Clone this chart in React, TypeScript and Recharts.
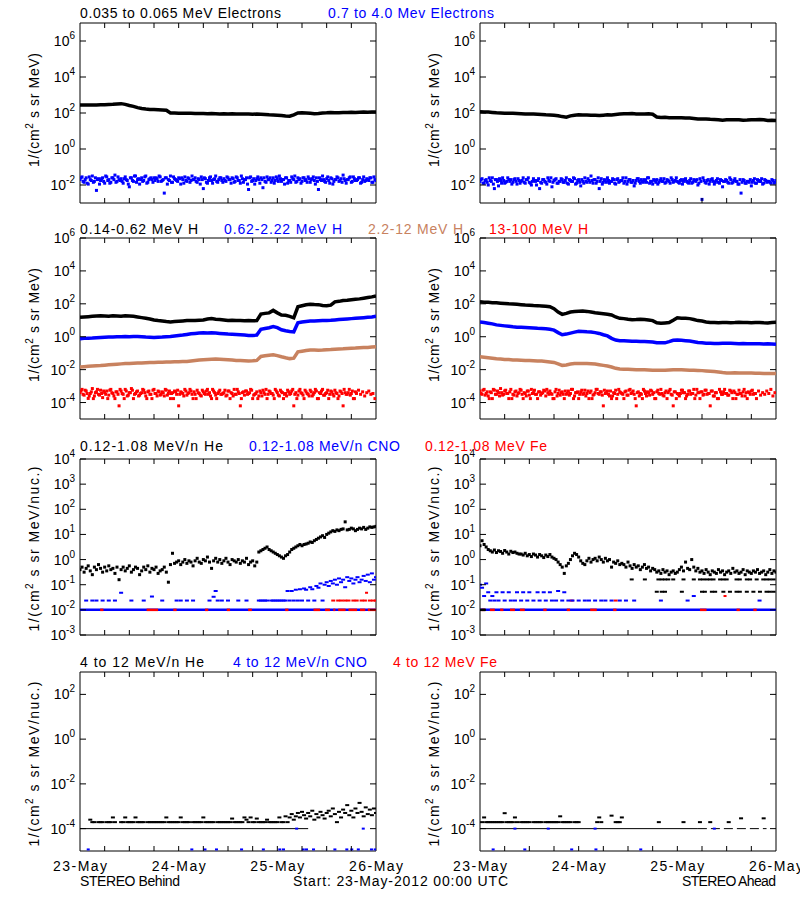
import React from 'react';
import { ComposedChart, Line, Scatter, XAxis, YAxis, ReferenceArea } from 'recharts';

const FONT = '"Liberation Sans", Arial, Helvetica, sans-serif';
const _ = null;
const BLACK = '#000000';
const BLUE = '#0000ff';
const BROWN = '#c8825f';
const RED = '#ff0000';

const DATE_LABELS = ['23-May', '24-May', '25-May', '26-May'];
const HOUR_TICKS = [0, 6, 12, 18, 24, 30, 36, 42, 48, 54, 60, 66, 72];

// ---------- Row 1: electrons (log10 flux) ----------
// hourly, 0.035-0.065 MeV, Behind
const eLowBehind = [
  2.44, 2.44, 2.45, 2.45, 2.45, 2.46, 2.46, 2.47, 2.48, 2.5,
  2.52, 2.48, 2.42, 2.37, 2.3, 2.25, 2.22, 2.2, 2.19, 2.18,
  2.17, 2.15, 2.0, 2.0, 1.99, 1.99, 1.98, 1.98, 1.97, 1.97,
  1.97, 1.96, 1.97, 1.96, 1.95, 1.96, 1.95, 1.96, 1.95, 1.95,
  1.94, 1.94, 1.93, 1.94, 1.93, 1.92, 1.9, 1.89, 1.88, 1.86,
  1.83, 1.82, 1.9, 2.0, 2.01, 2.0, 1.98, 1.96, 1.97, 2.0,
  2.01, 2.03, 2.02, 2.02, 2.03, 2.03, 2.04, 2.03, 2.04, 2.05,
  2.04, 2.05, 2.06,
];
// half-hourly (on the hour and half hour), 0.7-4.0 MeV, Behind
const eHighBehind = [
  -1.7, -1.55, -1.85, -1.6, -1.95, -1.7, -1.5, -1.8, -2.3, -1.65,
  -1.75, -1.6, -1.9, -1.55, -1.7, -1.85, -1.6, -1.45, -1.8, -1.7,
  -1.65, -1.9, -1.55, -1.75, -2.1, -1.6, -1.8, -1.5, -1.7, -1.95,
  -1.6, -1.75, -1.5, -1.85, -1.65, -1.7, -1.6, -1.6, -1.8, -1.55,
  -1.75, -2.45, -1.6, -1.7, -1.5, -1.85, -1.65, -1.75, -1.6, -1.95,
  -1.7, -1.55, -1.8, -1.65, -1.75, -1.7, -1.6, -1.85, -1.7, -1.55,
  -2.2, -1.65, -1.9, -1.6, -1.75, -1.7, -1.5, -1.85, -1.6, -1.75,
  -1.65, -1.8, -1.6, -1.7, -1.6, -1.85, -1.55, -1.75, -1.9, -1.65,
  -1.7, -1.6, -2.25, -1.55, -1.75, -1.95, -1.65, -1.7, -1.6, -2.15,
  -1.8, -1.55, -1.7, -1.85, -1.6, -1.75, -1.65, -1.5, -1.8, -1.7,
  -1.6, -1.9, -1.75, -1.55, -1.7, -1.85, -1.6, -1.65, -1.8, -1.6,
  -1.7, -1.55, -1.85, -1.65, -1.75, -1.6, -2.25, -1.7, -1.5, -1.8,
  -1.65, -1.75, -1.6, -1.95, -1.7, -1.55, -1.8, -1.65, -1.45, -1.75,
  -1.7, -1.6, -1.85, -1.55, -1.75, -1.7, -1.6, -1.85, -1.55, -1.75,
  -1.7, -1.6, -1.85, -1.55, -1.75,
];
// quarter past / quarter to samples, 0.7-4.0 MeV, Behind
const eHighBehindB = [
  -1.6, -1.8, -1.7, -1.9, -1.55, -1.75, -1.85, -1.6, -1.7, -1.95,
  -1.65, -1.8, -1.5, -1.75, -1.9, -1.6, -1.7, -1.85, -1.55, -1.75,
  -1.8, -1.65, -1.7, -1.95, -1.6, -1.75, -1.5, -1.85, -1.65, -1.7,
  -1.8, -1.55, -1.9, -1.7, -1.6, -1.85, -1.75, -1.65, -1.5, -1.8,
  -1.7, -1.6, -1.95, -1.75, -1.85, -1.55, -1.7, -1.8, -1.65, -1.6,
  -1.9, -1.75, -1.6, -1.85, -1.5, -1.7, -1.8, -1.65, -1.95, -1.7,
  -1.6, -1.85, -1.75, -1.55, -1.9, -1.65, -1.8, -1.7, -1.6, -1.85,
  -1.75, -1.55, -1.7, -1.9, -1.65, -1.8, -1.6, -1.75, -1.5, -1.85,
  -1.7, -1.95, -1.6, -1.8, -1.65, -1.75, -1.55, -1.9, -1.7, -1.6,
  -1.85, -1.7, -1.6, -1.75, -1.9, -1.55, -1.8, -1.65, -1.7, -1.95,
  -1.6, -1.75, -1.85, -1.65, -1.5, -1.8, -1.7, -1.9, -1.6, -1.75,
  -1.85, -1.65, -1.7, -1.55, -1.95, -1.8, -1.6, -1.75, -1.7, -1.85,
  -1.55, -1.9, -1.65, -1.8, -1.7, -1.6, -1.75, -1.85, -1.65, -1.9,
  -1.7, -1.55, -1.8, -1.65, -1.75, -1.6, -1.9, -1.7, -1.8, -1.65,
  -1.75, -1.6, -1.85, -1.7,
];
const eLowAhead = [
  2.07, 2.06, 2.05, 2.03, 2.01, 2.0, 1.99, 1.99, 1.98, 1.97,
  1.96, 1.95, 1.95, 1.94, 1.93, 1.92, 1.9, 1.89, 1.88, 1.85,
  1.8, 1.77, 1.84, 1.88, 1.9, 1.89, 1.89, 1.88, 1.87, 1.86,
  1.88, 1.9, 1.89, 1.92, 1.94, 1.96, 1.96, 1.97, 1.95, 1.94,
  1.95, 1.96, 1.93, 1.78, 1.75, 1.76, 1.74, 1.74, 1.73, 1.74,
  1.72, 1.72, 1.7, 1.67, 1.66, 1.67, 1.65, 1.64, 1.63, 1.6,
  1.62, 1.63, 1.62, 1.63, 1.6, 1.61, 1.63, 1.62, 1.64, 1.62,
  1.58, 1.6, 1.59,
];
const eHighAhead = [
  -1.8, -1.65, -1.9, -1.7, -2.0, -1.75, -1.6, -2.2, -1.7, -2.05,
  -1.75, -1.6, -1.9, -1.8, -1.7, -1.7, -1.85, -1.65, -1.95, -1.75,
  -1.8, -1.6, -1.9, -1.7, -1.85, -2.0, -1.65, -1.8, -1.75, -2.2,
  -1.9, -1.7, -1.85, -1.6, -1.8, -2.1, -1.75, -1.65, -1.9, -1.8,
  -1.7, -1.85, -1.6, -1.95, -1.75, -1.8, -1.65, -1.9, -1.7, -2.05,
  -1.8, -1.6, -1.85, -1.75, -1.5, -1.9, -1.7, -1.8, -2.2, -1.65,
  -1.85, -1.75, -1.6, -1.9, -1.8, -1.7, -1.95, -1.65, -1.8, -1.75,
  -1.9, -1.6, -1.8, -1.7, -1.85, -2.05, -1.75, -1.65, -1.9, -1.8,
  -1.7, -1.85, -1.6, -1.8, -1.95, -1.75, -1.7, -1.85, -1.65, -1.8,
  -1.9, -1.7, -1.8, -1.6, -1.85, -1.75, -1.8, -1.9, -1.7, -1.8,
  -1.65, -1.85, -1.75, -1.9, -1.7, -1.8, -2.0, -1.65, -2.8, -1.75,
  -1.9, -1.7, -1.8, -1.65, -1.95, -1.75, -1.85, -1.7, -2.1, -1.8,
  -1.75, -1.9, -1.7, -1.85, -1.65, -1.8, -1.95, -2.45, -1.7, -1.9,
  -1.8, -1.85, -2.05, -1.75, -1.9, -1.7, -1.8, -1.65, -1.9, -1.75,
  -1.8, -1.85, -1.7, -1.9, -1.75,
];
const eHighAheadB = [
  -1.7, -1.9, -1.75, -1.85, -1.6, -1.8, -1.95, -1.7, -1.8, -1.65,
  -1.9, -1.75, -1.85, -1.6, -1.8, -1.95, -1.7, -1.8, -1.65, -1.9,
  -1.75, -1.85, -1.7, -1.6, -1.9, -1.8, -1.75, -2.0, -1.65, -1.85,
  -1.7, -1.8, -1.95, -1.75, -1.6, -1.85, -1.7, -1.9, -1.8, -1.65,
  -1.85, -1.75, -1.9, -1.7, -1.8, -1.6, -1.95, -1.75, -1.85, -1.7,
  -1.9, -1.8, -1.65, -1.85, -1.75, -1.7, -1.9, -1.6, -1.8, -1.95,
  -1.7, -1.85, -1.75, -1.8, -1.65, -1.9, -1.7, -1.85, -1.75, -1.6,
  -1.8, -1.95, -1.7, -1.85, -1.75, -1.9, -1.65, -1.8, -1.7, -1.85,
  -1.75, -1.6, -1.9, -1.8, -1.7, -1.85, -1.95, -1.75, -1.8, -1.65,
  -1.85, -1.75, -1.9, -1.7, -1.8, -1.6, -1.85, -1.75, -1.95, -1.7,
  -1.8, -1.9, -1.65, -1.85, -1.75, -1.7, -1.9, -1.8, -1.6, -1.85,
  -1.75, -1.95, -1.7, -1.8, -1.85, -1.65, -1.9, -1.75, -1.8, -1.7,
  -1.85, -1.6, -1.9, -1.75, -1.8, -1.95, -1.7, -1.85, -1.75, -1.9,
  -1.8, -1.7, -1.85, -1.65, -1.9, -1.75, -1.8, -1.95, -1.7, -1.85,
  -1.8, -1.9, -1.75, -1.85,
];

// ---------- Row 2: protons (log10 flux) ----------
const hLowBehind = [
  1.18, 1.2, 1.22, 1.24, 1.26, 1.27, 1.26, 1.25, 1.27, 1.26,
  1.24, 1.27, 1.26, 1.24, 1.2, 1.16, 1.12, 1.08, 1.02, 0.98,
  0.95, 0.92, 0.9, 0.92, 0.94, 0.96, 0.98, 0.99, 0.98, 1.0,
  1.02, 1.08, 1.1, 1.06, 1.05, 1.02, 0.98, 1.0, 0.99, 0.98,
  0.97, 0.98, 0.97, 0.98, 1.38, 1.42, 1.45, 1.6, 1.45, 1.32,
  1.3, 1.24, 1.15, 1.82, 1.88, 1.94, 1.98, 1.96, 1.95, 1.9,
  1.88, 1.92, 2.12, 2.15, 2.2, 2.22, 2.25, 2.28, 2.3, 2.34,
  2.38, 2.42, 2.48,
];
const hMidBehind = [
  -0.12, -0.1, -0.09, -0.08, -0.06, -0.04, -0.03, -0.02, -0.01, 0.0,
  0.0, 0.01, 0.0, 0.02, 0.02, 0.0, -0.02, -0.03, -0.04, -0.03,
  -0.02, 0.0, 0.02, 0.05, 0.08, 0.1, 0.14, 0.18, 0.2, 0.22,
  0.24, 0.23, 0.24, 0.22, 0.2, 0.18, 0.16, 0.15, 0.14, 0.12,
  0.1, 0.08, 0.08, 0.1, 0.45, 0.5, 0.55, 0.62, 0.55, 0.42,
  0.36, 0.32, 0.3, 0.85, 0.9, 0.93, 0.95, 0.96, 0.97, 0.98,
  0.99, 1.0, 1.02, 1.04, 1.06, 1.08, 1.1, 1.12, 1.14, 1.16,
  1.18, 1.2, 1.24,
];
const hHighBehind = [
  -1.84, -1.82, -1.8, -1.78, -1.76, -1.75, -1.73, -1.71, -1.69, -1.67,
  -1.65, -1.63, -1.62, -1.61, -1.6, -1.59, -1.58, -1.57, -1.56, -1.55,
  -1.55, -1.54, -1.53, -1.52, -1.52, -1.51, -1.5, -1.47, -1.44, -1.42,
  -1.4, -1.38, -1.37, -1.36, -1.37, -1.38, -1.4, -1.42, -1.44, -1.45,
  -1.46, -1.47, -1.46, -1.44, -1.2, -1.16, -1.12, -1.1, -1.15, -1.22,
  -1.28, -1.33, -1.3, -0.92, -0.88, -0.84, -0.81, -0.8, -0.82, -0.81,
  -0.79, -0.78, -0.76, -0.74, -0.73, -0.71, -0.7, -0.69, -0.67, -0.66,
  -0.65, -0.63, -0.61,
];
const hTopBehind = [
  -3.4, -3.2, -3.55, -3.3, -3.75, -3.45, -3.15, -3.6, -3.35, -3.5,
  -3.25, -3.7, -3.4, -3.3, -3.55, -3.2, -3.45, -3.76, -3.35, -4.2,
  -3.3, -3.5, -3.2, -3.6, -3.4, -3.15, -3.76, -3.45, -3.3, -3.55,
  -3.4, -3.25, -3.6, -3.35, -3.5, -3.76, -3.2, -3.45, -3.3, -3.55,
  -3.35, -3.6, -3.25, -3.45, -3.76, -3.4, -3.3, -3.5, -4.2, -3.35,
  -3.45, -3.2, -3.55, -3.4, -3.3, -3.76, -3.5, -3.25, -3.45, -3.6,
  -3.35, -3.5, -3.2, -3.4, -3.76, -3.3, -3.55, -3.45, -3.25, -3.5,
  -3.4, -3.6, -3.3, -3.76, -3.45, -3.2, -3.5, -3.35, -4.2, -3.4,
  -3.55, -3.3, -3.45, -3.2, -3.76, -3.5, -3.35, -3.6, -3.4, -3.25,
  -3.5, -3.76, -3.3, -3.45, -3.55, -3.2, -3.4, -3.6, -3.35, -3.76,
  -3.45, -3.25, -3.5, -3.3, -4.2, -3.4, -3.55, -3.2, -3.45, -3.76,
  -3.35, -3.5, -3.25, -3.6, -3.4, -3.3, -3.76, -3.45, -3.2, -3.55,
  -3.4, -3.76, -3.3, -3.5, -3.25, -3.45, -3.6, -3.35, -4.2, -3.4,
  -3.5, -3.2, -3.45, -3.76, -3.35,
];
const hTopBehindB = [
  -3.3, -3.5, -3.25, -3.45, -3.6, -3.35, -3.76, -3.4, -3.2, -3.55,
  -3.45, -3.3, -3.5, -3.76, -3.25, -3.4, -3.6, -3.35, -3.5, -3.2,
  -3.45, -3.76, -3.3, -3.55, -3.4, -3.25, -3.5, -3.35, -3.6, -3.45,
  -3.2, -3.4, -3.76, -3.3, -3.5, -3.25, -3.45, -3.6, -3.35, -3.5,
  -3.4, -3.2, -3.55, -3.3, -3.45, -3.76, -3.35, -3.25, -3.5, -3.4,
  -3.6, -3.3, -3.45, -3.2, -3.5, -3.35, -3.76, -3.4, -3.55, -3.25,
  -3.45, -3.3, -3.5, -3.6, -3.2, -3.4, -3.76, -3.35, -3.5, -3.45,
  -3.25, -3.55, -3.3, -3.4, -3.6, -3.5, -3.2, -3.45, -3.76, -3.35,
  -3.3, -3.5, -3.4, -3.25, -3.55, -3.45, -3.76, -3.3, -3.6, -3.4,
  -3.2, -3.5, -3.35, -3.45, -3.76, -3.3, -3.55, -3.25, -3.4, -3.5,
  -3.6, -3.35, -3.45, -3.2, -3.5, -3.76, -3.3, -3.4, -3.55, -3.25,
  -3.45, -3.6, -3.35, -3.5, -3.2, -3.76, -3.4, -3.3, -3.55, -3.45,
  -3.25, -3.5, -3.35, -3.6, -3.4, -3.76, -3.3, -3.45, -3.2, -3.5,
  -3.4, -3.55, -3.3, -3.76, -3.45, -3.25, -3.5, -3.35, -3.6, -3.4,
  -3.3, -3.5, -3.45, -3.76,
];
const hLowAhead = [
  2.12, 2.1, 2.09, 2.07, 2.06, 2.04, 2.02, 2.0, 1.99, 1.97,
  1.95, 1.93, 1.92, 1.9, 1.89, 1.87, 1.85, 1.82, 1.7, 1.5,
  1.36, 1.42, 1.5, 1.53, 1.55, 1.56, 1.54, 1.5, 1.46, 1.43,
  1.4, 1.37, 1.32, 1.2, 1.12, 1.1, 1.06, 1.03, 1.04, 1.06,
  1.05, 1.02, 0.98, 0.85, 0.82, 0.84, 0.86, 1.0, 1.15, 1.13,
  1.12, 1.1, 1.05, 0.98, 0.95, 0.9, 0.87, 0.86, 0.85, 0.87,
  0.86, 0.85, 0.86, 0.88, 0.87, 0.86, 0.85, 0.86, 0.87, 0.85,
  0.84, 0.86, 0.88,
];
const hMidAhead = [
  0.9, 0.86, 0.82, 0.78, 0.72, 0.69, 0.66, 0.63, 0.6, 0.58,
  0.57, 0.56, 0.55, 0.53, 0.51, 0.5, 0.48, 0.45, 0.4, 0.25,
  0.12, 0.16, 0.22, 0.28, 0.33, 0.32, 0.3, 0.29, 0.25, 0.2,
  0.12, 0.05, -0.1, -0.2, -0.24, -0.25, -0.26, -0.27, -0.28, -0.29,
  -0.29, -0.3, -0.32, -0.36, -0.37, -0.37, -0.3, -0.22, -0.2, -0.22,
  -0.24, -0.26, -0.3, -0.35, -0.37, -0.39, -0.4, -0.41, -0.41, -0.4,
  -0.39, -0.4, -0.41, -0.42, -0.41, -0.42, -0.43, -0.42, -0.43, -0.44,
  -0.43, -0.44, -0.45,
];
const hHighAhead = [
  -1.22, -1.25, -1.28, -1.31, -1.34, -1.36, -1.38, -1.39, -1.41, -1.42,
  -1.43, -1.44, -1.45, -1.46, -1.47, -1.48, -1.5, -1.53, -1.56, -1.65,
  -1.74, -1.72, -1.66, -1.63, -1.62, -1.63, -1.63, -1.64, -1.66, -1.7,
  -1.74, -1.78, -1.84, -1.92, -1.96, -1.97, -1.98, -1.99, -2.0, -2.0,
  -2.01, -2.02, -2.03, -2.04, -2.04, -2.04, -2.02, -2.0, -2.0, -2.01,
  -2.02, -2.03, -2.04, -2.05, -2.06, -2.08, -2.1, -2.12, -2.15, -2.18,
  -2.2, -2.2, -2.19, -2.2, -2.21, -2.2, -2.21, -2.22, -2.22, -2.23,
  -2.24, -2.23, -2.24,
];
const hTopAhead = [
  -3.3, -3.5, -3.2, -3.45, -3.6, -3.35, -3.76, -3.25, -3.5, -3.4,
  -3.15, -3.55, -3.3, -3.45, -3.76, -3.2, -3.5, -3.35, -3.6, -3.4,
  -3.25, -3.76, -3.45, -3.3, -3.55, -3.2, -3.4, -3.5, -3.76, -3.35,
  -3.45, -3.25, -3.6, -3.4, -3.3, -3.5, -3.76, -3.2, -3.45, -3.55,
  -3.35, -3.76, -3.5, -3.3, -3.45, -3.2, -3.6, -3.4, -3.76, -3.35,
  -3.5, -3.25, -3.45, -3.76, -3.3, -3.55, -3.4, -3.2, -3.5, -3.35,
  -4.2, -3.45, -3.3, -3.6, -3.76, -3.4, -3.25, -3.5, -3.35, -3.45,
  -3.76, -3.3, -3.55, -3.2, -3.4, -3.5, -4.2, -3.35, -3.45, -3.76,
  -3.3, -3.6, -3.4, -3.25, -3.5, -3.76, -3.35, -3.45, -3.2, -3.55,
  -3.4, -3.76, -3.3, -3.5, -4.2, -3.35, -3.45, -3.6, -3.25, -3.4,
  -3.76, -3.5, -3.3, -3.45, -3.2, -3.55, -3.4, -3.76, -3.35, -3.5,
  -3.25, -3.45, -4.2, -3.3, -3.6, -3.4, -3.76, -3.35, -3.5, -3.2,
  -3.45, -3.55, -3.3, -3.76, -3.4, -3.5, -3.25, -3.45, -3.35, -3.6,
  -3.76, -3.4, -3.3, -3.5, -3.45,
];
const hTopAheadB = [
  -3.45, -3.25, -3.55, -3.35, -3.76, -3.4, -3.2, -3.5, -3.3, -3.6,
  -3.4, -3.5, -3.25, -3.45, -3.35, -3.76, -3.55, -3.3, -3.45, -3.2,
  -3.5, -3.4, -3.6, -3.3, -3.76, -3.45, -3.25, -3.5, -3.35, -3.55,
  -3.4, -3.3, -3.2, -3.5, -3.45, -3.76, -3.35, -3.6, -3.25, -3.4,
  -3.5, -3.3, -3.45, -3.55, -3.2, -3.76, -3.4, -3.35, -3.5, -3.25,
  -3.45, -3.6, -3.3, -3.4, -3.76, -3.5, -3.2, -3.45, -3.35, -3.55,
  -3.25, -3.4, -3.5, -3.3, -3.6, -3.45, -3.76, -3.2, -3.4, -3.5,
  -3.35, -3.55, -3.25, -3.45, -3.3, -3.76, -3.4, -3.6, -3.5, -3.2,
  -3.45, -3.35, -3.55, -3.3, -3.4, -3.76, -3.25, -3.5, -3.45, -3.6,
  -3.3, -3.4, -3.2, -3.55, -3.35, -3.76, -3.5, -3.45, -3.25, -3.4,
  -3.6, -3.3, -3.5, -3.45, -3.76, -3.2, -3.4, -3.35, -3.55, -3.25,
  -3.5, -3.45, -3.3, -3.6, -3.4, -3.76, -3.2, -3.5, -3.35, -3.45,
  -3.55, -3.25, -3.4, -3.3, -3.76, -3.5, -3.45, -3.6, -3.2, -3.4,
  -3.35, -3.5, -3.25, -3.45, -3.76, -3.3, -3.55, -3.4, -3.5, -3.3,
  -3.45, -3.2, -3.6, -3.4,
];

// ---------- Row 3: 0.12-1.08 MeV/n ions (log10 flux, half-hourly) ----------
const heLoBehind = [
  -0.4, -0.3, -0.5, -0.35, -0.25, -0.45, -0.6, -0.3, -0.4, -0.2,
  -0.35, -0.5, -0.3, -0.45, -0.25, -0.4, -0.35, -0.55, -0.3, -0.8,
  -0.4, -0.3, -0.45, -0.35, -0.25, -0.5, -0.4, -0.3, -0.35, -0.6,
  -0.45, -0.3, -0.4, -0.25, -0.5, -0.35, -0.4, -0.3, -0.55, -0.45,
  -0.4, -0.3, -0.5, -0.9, -0.2, 0.25, -0.15, -0.1, -0.05, -0.2,
  -0.1, 0.0, -0.15, -0.05, -0.1, -0.25, -0.05, 0.05, -0.1, -0.15,
  0.0, -0.05, 0.1, -0.1, -0.35, -0.05, 0.05, -0.1, 0.0, -0.15,
  -0.05, 0.05, -0.1, -0.2, 0.0, -0.05, -0.1, 0.0, -0.15, -0.05,
  -0.1, 0.05, -0.2, -0.1, -0.05, -0.25, -0.1, 0.3, 0.35, 0.4,
  0.45, 0.5, 0.4, 0.35, 0.3, 0.25, 0.2, 0.15, 0.1, 0.05,
  0.15, 0.2, 0.3, 0.4, 0.45, 0.5, 0.55, 0.6, 0.55, 0.6,
  0.62, 0.65, 0.7, 0.68, 0.75, 0.8, 0.85, 0.9, 0.95, 0.88,
  1.0, 1.05, 1.1, 1.15, 1.12, 1.18, 1.15, 1.2, 1.22, 1.5,
  1.18, 1.2, 1.25, 1.22, 1.15, 1.2, 1.25, 1.22, 1.28, 1.2,
  1.25, 1.3, 1.28, 1.3, 1.32,
];
const cnoLoBehind = [
  _, _, _, -1.63, _, _, -1.63, _, -1.63, _,
  _, -1.63, _, _, -1.63, _, _, -1.63, _, _,
  -1.32, _, _, _, _, -1.63, _, _, _, _,
  _, -1.63, _, _, _, -1.47, _, _, _, _,
  -1.63, _, _, _, _, _, _, -1.63, _, -1.63,
  _, _, -1.63, _, _, -1.63, _, _, _, _,
  _, _, _, -1.63, _, -1.48, -1.25, -1.63, _, -1.63,
  _, _, -1.63, _, _, _, _, -1.63, _, _,
  _, -1.63, _, _, _, _, _, -1.63, -1.63, -1.63,
  -1.63, -1.63, _, -1.63, -1.63, -1.63, -1.63, -1.63, -1.63, -1.63,
  -1.63, -1.25, -1.63, -1.25, -1.63, -1.2, -1.63, -1.18, -1.63, -1.15,
  -1.2, -1.63, -1.1, -1.18, -1.63, -1.05, -1.12, -0.95, -1.63, -1.0,
  -0.9, -1.05, -0.85, -0.95, -0.8, -1.0, -0.75, -0.9, -0.8, -1.1,
  -0.7, -0.85, -0.75, -0.95, -0.8, -0.7, -0.9, -0.8, -0.65, -0.85,
  -0.6, -0.9, -0.55, -0.8, -0.7,
];
// hour spans where Fe sits at the 0.01 floor (visible over CNO), Behind
const feFloorBehind = [
  [4.9, 5.7], [16.2, 19], [22.7, 23.5], [30.4, 31.2], [35.7, 36.5], [40.9, 41.8],
  [49.9, 50.7], [56.8, 58.4], [59.6, 60.8], [61.6, 62.1], [62.8, 64.6], [65.3, 67.4],
  [68.1, 69.4], [70, 72],
];
const feRowHoursBehind = [61.6, 62.8, 63.6, 64.5, 65.3, 66.5, 67.3, 68.5, 69.3, 70.5, 71.3, 72];
const feHighHoursBehind = [69.7];

const heLoAhead = [
  0.55, 0.75, 0.6, 0.5, 0.4, 0.35, 0.3, 0.38, 0.28, 0.35,
  0.32, 0.25, 0.36, 0.3, 0.22, 0.33, 0.28, 0.3, 0.25, 0.22,
  0.22, 0.18, 0.25, 0.15, 0.2, 0.12, 0.22, 0.18, 0.1, 0.2,
  0.15, 0.08, 0.18, 0.12, 0.2, 0.1, 0.05, 0.0, -0.1, -0.2,
  -0.3, -0.55, -0.25, -0.15, 0.0, 0.15, 0.25, 0.2, 0.1, -0.05,
  -0.15, -0.2, -0.05, 0.05, -0.1, 0.0, 0.05, -0.05, 0.1, 0.0,
  -0.1, 0.05, -0.05, 0.0, -0.3, -0.1, -0.15, -0.05, -0.2, -0.15,
  -0.2, -0.3, -0.1, -0.25, -0.35, -0.2, -0.3, -0.25, -0.4, -0.3,
  -0.2, -0.35, -0.3, -0.45, -0.35, -0.4, -0.5, -0.45, -0.55, -0.4,
  -0.5, -0.45, -0.6, -0.5, -0.45, -0.55, -0.5, -0.4, -0.3, -0.45,
  -0.1, -0.35, -0.4, 0.0, -0.3, -0.45, -0.35, -0.5, -0.45, -0.55,
  -0.4, -0.5, -0.6, -0.45, -0.5, -0.55, -0.4, -0.5, -0.45, -0.6,
  -0.5, -0.45, -0.55, -0.35, -0.5, -0.45, -0.55, -0.5, -0.4, -0.6,
  -0.45, -0.5, -0.55, -0.45, -0.5, -0.4, -0.55, -0.5, -0.45, -0.6,
  -0.5, -0.4, -0.55, -0.45, -0.5,
];
const heRow1HoursAhead = [36.9, 40.1, 43.4, 44.2, 45, 45.8, 47, 49.5, 52, 53.5, 54.3, 55.2, 56, 56.8, 58.4, 59.2, 60, 62.4, 63.2, 64.9, 65.7, 67.3, 68.9, 69.7, 70.5, 71.4];
const heRow2HoursAhead = [43, 44.2, 45, 49.1, 54, 54.7, 56.4, 57.2, 59.2, 60.8, 62.4, 63.2, 64.9, 66.5, 68.1, 69.7, 70.5, 71.4];
const heFloorAhead = [[0, 1.4]];
const cnoLoAhead = [
  -1.0, -1.12, -1.45, -0.95, -1.3, -1.63, -1.45, -1.63, -1.3, -1.63,
  _, -1.3, -1.63, _, -1.3, -1.63, _, -1.63, -1.3, _,
  -1.63, -1.3, _, -1.63, -1.3, _, -1.63, _, -1.3, -1.63,
  _, -1.3, -1.63, _, -1.3, -1.63, _, -1.63, -1.25, _,
  -1.63, -1.3, _, -1.63, _, -1.63, _, _, -1.63, _,
  _, -1.63, _, -1.63, _, _, -1.63, _, _, -1.63,
  _, -1.63, _, _, -1.63, _, _, _, -1.63, _,
  _, -1.63, _, _, _, -1.63, _, _, _, _,
  _, _, _, _, _, _, _, _, -1.63, _,
  _, _, _, _, _, _, _, _, _, _,
  _, -1.63, _, _, -1.45, _, _, _, _, _,
  _, _, _, _, _, _, _, _, _, _,
  _, _, _, _, _, _, _, _, _, _,
  _, _, _, _, _, _, -1.63, _, _, _,
  _, _, _, _, _,
];
const feFloorAhead = [
  [0.4, 1.2], [2.4, 3.6], [4.9, 5.7], [7.3, 8.5], [9.7, 10.9], [15.4, 16.2], [21.1, 21.9],
  [26.8, 28.4], [32.4, 33.2], [53.5, 55.1], [62.4, 63.2], [66.5, 67.3],
];
const feRowHoursAhead = [22.3, 33];
const feMidHoursAhead = [59.6];

// ---------- Row 4: 4-12 MeV/n ions (log10 flux, half-hourly) ----------
const heHiBehind = [
  _, _, _, _, _,
  -3.6, -3.71, -3.71, _, -3.71, -3.71, -3.71, _, -3.71, -3.71, -3.71,
  -3.5, -3.71, _, _, -3.71, -3.71, -3.5, -3.71, -3.71, -3.71,
  -3.71, -3.5, -3.71, -3.71, -3.71, -3.71, _, -3.71, -3.71, -3.71, -3.71, -3.71, -3.71, -3.71, -3.71,
  -3.71, -3.5, -3.71, -3.71, -3.71, -3.71, -3.71, -3.71, -3.5, -3.71, -3.71, -3.71, -3.71, _, -3.71, -3.71, -3.71, -3.71, -3.71, -3.5,
  -3.71, -3.71, -3.71, -3.71, -3.71, _, -3.71, -3.71, -3.71, -3.71, -3.71, -3.71, -3.71, -3.55, -3.71, -3.71, -3.71, -3.71, -3.71, -3.5,
  -3.6, -3.71, -3.5, -3.71, -3.71, -3.55, -3.71, -3.71, -3.71, -3.71, -3.6, -3.71, -3.71, -3.71, -3.71, -3.71, -3.5, -3.71, -3.71, -3.45,
  -3.71, -3.5, -3.35, -3.6, -3.45, -3.3, -3.5, -3.25, -3.4, -3.55, -3.3, -3.45, -3.2, -3.6, -3.35, -3.5, -3.25, -3.4, -3.55, -3.3,
  -3.2, -3.45, -3.1, -3.35, -3.71, -3.25, -3.5, -3.15, -3.3, -2.95, -3.4, -3.2, -3.5, -3.1, -3.3, -2.85, -3.25, -3.45, -3.05, -3.35, -3.15, -3.4, -3.1, -3.3,
];
const heFloorBehind = [[0, 55.5]];
const cnoHiLowHoursBehind = [2, 27.2, 30.4, 33.2, 39.3, 44.6, 48.6, 49.5, 54.3, 55.1, 56.8, 62, 64.9, 66.1, 67.7, 70.9, 71.8];
const cnoHiFloorHoursBehind = [52.7, 68.9];

const heHiAhead = [
  _, -3.71, -3.5, -3.71, -3.71, -3.71, -3.71, -3.71, -3.71, -3.71, -3.71, -3.71, -3.31, -3.71, -3.71, -3.71, -3.71, -3.5, -3.71,
  _, -3.71, -3.71, -3.71, -3.71, -3.71, _, -3.71, -3.71, -3.71, -3.71,
  -3.71, _, -3.71, -3.71, -3.71, -3.71, -3.71, -3.71, -3.71, -3.45, -3.71,
  -3.71, -3.71, -3.71, -3.71, _, -3.71, -3.71, -3.71, _, _,
  _, _, _, _, _, _, -3.71, -3.5, -3.71, _,
  _, _, _, -3.42, _, -3.71, -3.71, -3.71, -3.5, _,
  _, _, _, _, _, _, _, _, _, _,
  _, _, _, _, _, _, -3.71, _, _, _,
  _, _, _, _, _, _, _, _, -3.71, _,
  _, _, _, _, _, _, -3.71, _, _, _,
  _, -3.71, _, _, _, _, _, _, _, _,
  -3.71, _, _, _, _, _, -3.54, _, _, _,
  _, _, _, _, _, _, _, -3.54, _, _,
  _, _, _, _,
];
const heFloorAheadSolid = [[0, 53]];
const heFloorAheadDashed = [[53, 69.7]];
const cnoHiLowHoursAhead = [3.2, 10.9, 22.3, 28.2, 39.1];
const cnoHiFloorHoursAhead = [8.5, 16.6, 28, 57];

// ---------- text ----------
const TITLES = [
  { s: '0.035 to 0.065 MeV Electrons', c: BLACK, x: 80, y: 18, w: 201 },
  { s: '0.7 to 4.0 Mev Electrons', c: BLUE, x: 328, y: 18, w: 166 },
  { s: '0.14-0.62 MeV H', c: BLACK, x: 80, y: 234, w: 118 },
  { s: '0.62-2.22 MeV H', c: BLUE, x: 224, y: 234, w: 118 },
  { s: '2.2-12 MeV H', c: BROWN, x: 368, y: 234, w: 95 },
  { s: '13-100 MeV H', c: RED, x: 489, y: 234, w: 99 },
  { s: '0.12-1.08 MeV/n He', c: BLACK, x: 80, y: 451, w: 143 },
  { s: '0.12-1.08 MeV/n CNO', c: BLUE, x: 249, y: 451, w: 151 },
  { s: '0.12-1.08 MeV Fe', c: RED, x: 425, y: 451, w: 122 },
  { s: '4 to 12 MeV/n He', c: BLACK, x: 80, y: 667, w: 124 },
  { s: '4 to 12 MeV/n CNO', c: BLUE, x: 233, y: 667, w: 134 },
  { s: '4 to 12 MeV Fe', c: RED, x: 393, y: 667, w: 104 },
  { s: 'STEREO Behind', c: BLACK, x: 80, y: 886, w: 100 },
  { s: 'Start: 23-May-2012 00:00 UTC', c: BLACK, x: 293, y: 886, w: 215 },
  { s: 'STEREO Ahead', c: BLACK, x: 682, y: 886, w: 94 },
];
const YLABELS = [
  { cy: 110, unit: ' s sr MeV)', w: 114 },
  { cy: 325, unit: ' s sr MeV)', w: 114 },
  { cy: 549, unit: ' s sr MeV/nuc.)', w: 165 },
  { cy: 764, unit: ' s sr MeV/nuc.)', w: 165 },
];

// ---------- helpers ----------
const P10 = (v: number) => Math.pow(10, v);
const hourly = (a: number[]) => a.map((v, i) => ({ x: i, y: P10(v) }));
const halfHourly = (a: (number | null)[], start = 0) =>
  a.flatMap((v, i) => (v === null ? [] : [{ x: start + i * 0.5, y: P10(v) }]));
const atHours = (hours: number[], lv: number) => hours.map((h) => ({ x: h, y: P10(lv) }));
const span = (p: number[], lv: number) => [{ x: p[0], y: P10(lv) }, { x: p[1], y: P10(lv) }];

const PLOT_W = 296;

const box = (color: string, w = 3, h = 2) => (p: any) => {
  if (!p || p.cx == null || isNaN(p.cx) || isNaN(p.cy)) return <g />;
  return <rect x={p.cx - w / 2} y={p.cy - h / 2} width={w} height={h} fill={color} />;
};

const pts = (key: string, data: any[], color: string, w = 3, h = 2) => (
  <Scatter key={key} data={data} dataKey="y" fill={color} shape={box(color, w, h)} isAnimationActive={false} />
);
const ln = (key: string, data: any[], color: string, width = 3, dash?: string) => (
  <Line
    key={key}
    data={data}
    dataKey="y"
    type="linear"
    stroke={color}
    strokeWidth={width}
    strokeDasharray={dash}
    dot={false}
    activeDot={false}
    isAnimationActive={false}
  />
);

const YTick = (p: any) => {
  const { x, y, payload } = p;
  const e = Math.round(Math.log10(payload.value));
  return (
    <g>
      <line x1={x} x2={x + 6} y1={y} y2={y} stroke="#000" strokeWidth={1} />
      <line x1={x + PLOT_W - 6} x2={x + PLOT_W} y1={y} y2={y} stroke="#000" strokeWidth={1} />
      <text x={x - 5} y={y + 5} textAnchor="end" fontSize={14} fontFamily={FONT} fill="#000">
        10<tspan dy={-7} fontSize={10}>{String(e)}</tspan>
      </text>
    </g>
  );
};

const XTick = (p: any) => {
  const { x, y, payload, plotH, dates } = p;
  const h = payload.value;
  const label = dates && h % 24 === 0 ? DATE_LABELS[h / 24] : null;
  return (
    <g>
      {h > 0 && h < 72 ? (
        <g>
          <line x1={x} x2={x} y1={y} y2={y - 5} stroke="#000" strokeWidth={1} />
          <line x1={x} x2={x} y1={y - plotH} y2={y - plotH + 5} stroke="#000" strokeWidth={1} />
        </g>
      ) : null}
      {label ? (
        <text x={x} y={y + 20} textAnchor="middle" fontSize={14} fontFamily={FONT} fill="#000" textLength={54} lengthAdjust="spacing">
          {label}
        </text>
      ) : null}
    </g>
  );
};

function Panel({ left, top, plotH, domain, ticks, dates, children }: any) {
  const W = 400;
  const H = plotH + 40;
  return (
    <div style={{ position: 'absolute', left, top: top - 10, width: W, height: H }}>
      <ComposedChart width={W} height={H} margin={{ top: 10, right: 24, bottom: 0, left: 0 }}>
        <XAxis
          dataKey="x"
          type="number"
          domain={[0, 72]}
          ticks={HOUR_TICKS}
          interval={0}
          height={30}
          axisLine={false}
          tickLine={false}
          tickSize={0}
          tickMargin={0}
          allowDataOverflow
          tick={(p: any) => <XTick {...p} plotH={plotH} dates={dates} />}
        />
        <YAxis
          dataKey="y"
          type="number"
          scale="log"
          domain={domain}
          ticks={ticks}
          interval={0}
          width={80}
          axisLine={false}
          tickLine={false}
          tickSize={0}
          tickMargin={0}
          allowDataOverflow
          tick={(p: any) => <YTick {...p} />}
        />
        {children}
        <ReferenceArea x1={0} x2={72} y1={domain[0]} y2={domain[1]} fill="none" fillOpacity={0} stroke="#000" strokeWidth={1} />
      </ComposedChart>
    </div>
  );
}

const ROW1 = { plotTop: 23, plotH: 180, domain: [1e-3, 1e7], ticks: [1e-2, 1, 1e2, 1e4, 1e6] };
const ROW2 = { plotTop: 238, plotH: 181, domain: [1e-5, 1e6], ticks: [1e-4, 1e-2, 1, 1e2, 1e4, 1e6] };
const ROW3 = { plotTop: 459, plotH: 176, domain: [1e-3, 1e4], ticks: [1e-3, 1e-2, 1e-1, 1, 1e1, 1e2, 1e3, 1e4] };
const ROW4 = { plotTop: 672, plotH: 179, domain: [1e-5, 1e3], ticks: [1e-4, 1e-2, 1, 1e2] };

export default function App() {
  const row = (r: any, left: number, dates: boolean, kids: any[]) => (
    <Panel left={left} top={r.plotTop} plotH={r.plotH} domain={r.domain} ticks={r.ticks} dates={dates}>
      {kids}
    </Panel>
  );
  return (
    <div style={{ position: 'absolute', left: 0, top: 0, width: 800, height: 900, background: '#fff', fontFamily: FONT }}>
      <style>{'.recharts-surface{overflow:visible}'}</style>
      {row(ROW1, 0, false, [
        pts('b', halfHourly(eHighBehind), BLUE, 3, 3),
        pts('b2', halfHourly(eHighBehindB, 0.25), BLUE, 3, 3),
        ln('k', hourly(eLowBehind), BLACK, 3.5),
      ])}
      {row(ROW1, 400, false, [
        pts('b', halfHourly(eHighAhead), BLUE, 3, 3),
        pts('b2', halfHourly(eHighAheadB, 0.25), BLUE, 3, 3),
        ln('k', hourly(eLowAhead), BLACK, 3.5),
      ])}
      {row(ROW2, 0, false, [
        pts('r', halfHourly(hTopBehind), RED, 3, 3),
        pts('r2', halfHourly(hTopBehindB, 0.25), RED, 3, 3),
        ln('o', hourly(hHighBehind), BROWN, 3.5),
        ln('b', hourly(hMidBehind), BLUE, 3.5),
        ln('k', hourly(hLowBehind), BLACK, 3.5),
      ])}
      {row(ROW2, 400, false, [
        pts('r', halfHourly(hTopAhead), RED, 3, 3),
        pts('r2', halfHourly(hTopAheadB, 0.25), RED, 3, 3),
        ln('o', hourly(hHighAhead), BROWN, 3.5),
        ln('b', hourly(hMidAhead), BLUE, 3.5),
        ln('k', hourly(hLowAhead), BLACK, 3.5),
      ])}
      {row(ROW3, 0, false, [
        ln('bf', span([0, 72], -2), BLUE, 2.5),
        ...feFloorBehind.map((s, i) => ln('rf' + i, span(s, -2), RED, 2.5)),
        pts('rr', atHours(feRowHoursBehind, -1.63), RED, 4, 2),
        pts('rh', atHours(feHighHoursBehind, -1.32), RED, 3, 2),
        pts('b', halfHourly(cnoLoBehind), BLUE, 4, 2),
        pts('k', halfHourly(heLoBehind), BLACK, 3, 3),
      ])}
      {row(ROW3, 400, false, [
        ln('bf', span([0, 72], -2), BLUE, 2.5),
        ...feFloorAhead.map((s, i) => ln('rf' + i, span(s, -2), RED, 2.5)),
        ...heFloorAhead.map((s, i) => ln('kf' + i, span(s, -2), BLACK, 2.5)),
        pts('rr', atHours(feRowHoursAhead, -1.63), RED, 4, 2),
        pts('rm', atHours(feMidHoursAhead, -1.45), RED, 3, 2),
        pts('b', halfHourly(cnoLoAhead), BLUE, 4, 2),
        pts('k1', atHours(heRow1HoursAhead, -0.79), BLACK, 4, 2),
        pts('k2', atHours(heRow2HoursAhead, -1.28), BLACK, 4, 2),
        pts('k', halfHourly(heLoAhead), BLACK, 3, 3),
      ])}
      {row(ROW4, 0, true, [
        ...heFloorBehind.map((s, i) => ln('kf' + i, span(s, -4), BLACK, 1)),
        pts('k', halfHourly(heHiBehind), BLACK, 4, 2),
        pts('bl', atHours(cnoHiLowHoursBehind, -4.93), BLUE, 3, 2),
        pts('bf', atHours(cnoHiFloorHoursBehind, -4), BLUE, 3, 2),
      ])}
      {row(ROW4, 400, true, [
        ...heFloorAheadSolid.map((s, i) => ln('kf' + i, span(s, -4), BLACK, 1)),
        ...heFloorAheadDashed.map((s, i) => ln('kd' + i, span(s, -4), BLACK, 1, '9 4')),
        pts('k', halfHourly(heHiAhead), BLACK, 4, 2),
        pts('bl', atHours(cnoHiLowHoursAhead, -4.93), BLUE, 3, 2),
        pts('bf', atHours(cnoHiFloorHoursAhead, -4), BLUE, 3, 2),
      ])}
      <svg width={800} height={900} style={{ position: 'absolute', left: 0, top: 0, pointerEvents: 'none' }}>
        {TITLES.map((t, i) => (
          <text key={i} x={t.x} y={t.y} fill={t.c} fontSize={14} fontFamily={FONT} textLength={t.w} lengthAdjust="spacing">
            {t.s}
          </text>
        ))}
        {[0, 400].map((dx) =>
          YLABELS.map((l, i) => (
            <text
              key={dx + '-' + i}
              transform={`translate(${dx + 39},${l.cy}) rotate(-90)`}
              textAnchor="middle"
              fontSize={14}
              fontFamily={FONT}
              fill="#000"
              textLength={l.w}
              lengthAdjust="spacing"
            >
              1/(cm<tspan dy={-6} fontSize={10}>2</tspan>
              <tspan dy={6}>{l.unit}</tspan>
            </text>
          ))
        )}
      </svg>
    </div>
  );
}
